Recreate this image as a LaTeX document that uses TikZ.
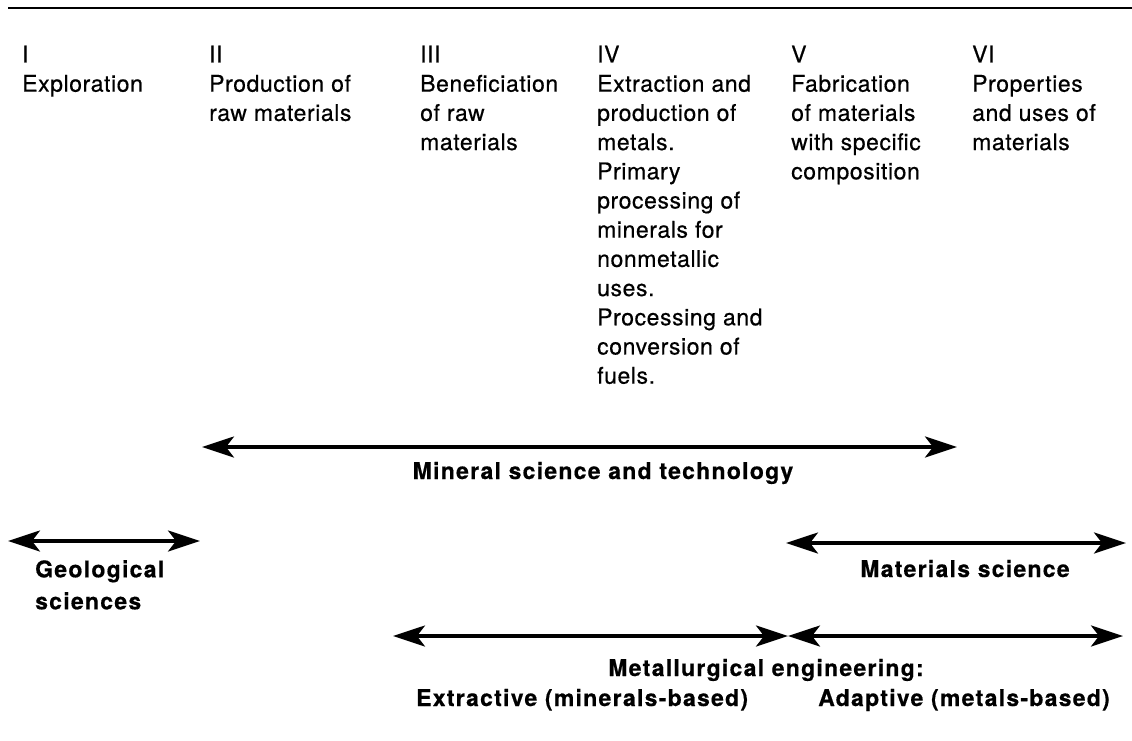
\documentclass[tikz,border=0pt]{standalone}
\usepackage{fontspec}
\setmainfont{TeX Gyre Heros}[LetterSpace=2.5, FakeBold=0.5, BoldFeatures={LetterSpace=5.5, FakeBold=0.5}]
\usetikzlibrary{arrows.meta}

\begin{document}
\begin{tikzpicture}[
    x=1pt, y=-1pt,
    % Define a style for the column headings
    heading/.style={anchor=north west, inner sep=0pt, align=left,
        font=\fontsize{23}{29.2}\selectfont},
    % Define a style for the field labels
    field/.style={inner sep=0pt, font=\fontsize{23}{32}\selectfont\bfseries},
    % Define a style for the span arrows
    span/.style={line width=3.2pt,
        {Stealth[length=32pt, width=21pt, inset=8pt]}-{Stealth[length=32pt, width=21pt, inset=8pt]}}
]
    \useasboundingbox (0,0) rectangle (1132,740);

    % Rule across the top
    \draw[line width=2.5pt] (8,8) -- (1132,8);

    % Place the column headings using a foreach loop
    \foreach \x/\name/\txt in {22/explore/{I\\Exploration},
        209/produce/{II\\Production of\\raw materials},
        420/benefit/{III\\Beneficiation\\of raw\\materials},
        597/extract/{IV\\Extraction and\\production of\\metals.\\Primary\\processing of\\minerals for\\nonmetallic\\uses.\\Processing and\\conversion of\\fuels.},
        791/fabric/{V\\Fabrication\\of materials\\with specific\\composition},
        972/uses/{VI\\Properties\\and uses of\\materials}} {
        \node[heading] (\name) at (\x,45.5) {\txt};
    }

    % End points of the spans
    \coordinate (mineral-l) at (202,447);
    \coordinate (mineral-r) at (957,447);
    \coordinate (geo-l) at (8,541);
    \coordinate (geo-r) at (200,541);
    \coordinate (mat-l) at (786,543);
    \coordinate (mat-r) at (1126,543);
    \coordinate (metal-l) at (393,636);
    \coordinate (metal-m) at (788,636);
    \coordinate (metal-r) at (1123,636);

    % Spans
    \draw[span] (mineral-l) -- (mineral-r);
    \draw[span] (geo-l) -- (geo-r);
    \draw[span] (mat-l) -- (mat-r);
    \draw[span] (metal-l) -- (metal-m);
    \draw[span] (metal-m) -- (metal-r);

    % Labels of the spans
    \node[field, anchor=base] (mineral) at (603,479) {Mineral science and technology};
    \node[field, anchor=north west, align=left] (geo) at (35,560) {Geological\\sciences};
    \node[field, anchor=base] (mat) at (965,577) {Materials science};
    \node[field, anchor=base] (metal) at (766,676) {Metallurgical engineering:};
    \node[field, anchor=base west] (extractive) at (416,706) {Extractive (minerals-based)};
    \node[field, anchor=base west] (adaptive) at (818,706) {Adaptive (metals-based)};

\end{tikzpicture}
\end{document}
